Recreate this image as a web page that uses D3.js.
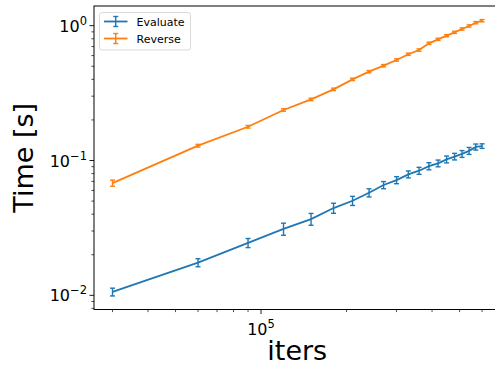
<!DOCTYPE html>
<html>
<head>
<meta charset="utf-8">
<script src="https://cdn.jsdelivr.net/npm/d3@7"></script>
<style>
  html, body { margin: 0; padding: 0; background: #fff; }
  svg { display: block; font-family: "DejaVu Sans", sans-serif; }
</style>
</head>
<body>
<svg id="chart" width="495" height="366"></svg>
<script>
// ---- data ----
const iters = [30000, 60000, 90000, 120000, 150000, 180000, 210000, 240000, 270000, 300000,
               330000, 360000, 390000, 420000, 450000, 480000, 510000, 540000, 570000, 600000];
const evaluateTime = [0.0106, 0.0175, 0.0245, 0.0311, 0.0368, 0.0444, 0.0503, 0.0577, 0.0658, 0.0716,
                      0.0790, 0.0840, 0.0908, 0.0953, 0.1020, 0.1070, 0.1120, 0.1180, 0.1260, 0.1280];
const evaluateErr = [0.0007, 0.0012, 0.0019, 0.0032, 0.0037, 0.0038, 0.0039, 0.0040, 0.0040, 0.0043,
                     0.0047, 0.0050, 0.0055, 0.0055, 0.0060, 0.0060, 0.0065, 0.0070, 0.0065, 0.0050];
const reverseTime = [0.0680, 0.1288, 0.1780, 0.2370, 0.2840, 0.3370, 0.4000, 0.4560, 0.5050, 0.5570,
                     0.6140, 0.6600, 0.7400, 0.7920, 0.8430, 0.8930, 0.9450, 0.9950, 1.0520, 1.0890];
const reverseErr = [0.0035, 0.0030, 0.0040, 0.0050, 0.0060, 0.0070, 0.0080, 0.0090, 0.0100, 0.0110,
                    0.0120, 0.0130, 0.0140, 0.0150, 0.0160, 0.0170, 0.0180, 0.0190, 0.0200, 0.0210];
const seriesNames = ["Evaluate", "Reverse"];
const seriesColors = ["#1f77b4", "#ff7f0e"];
const xMajorTicks = [1e5];
const yMajorTicks = [1e-2, 1e-1, 1e0];
const yTickExponents = ["−2", "−1", "0"];
const xTickExponents = ["5"];
const xLabel = "iters";
const yLabel = "Time [s]";

// ---- layout ----
const svg = d3.select("#chart");
svg.append("rect").attr("width", 495).attr("height", 366).attr("fill", "#fff");

const pL = 94, pR = 500.5, pT = 6, pB = 309.5;
const x = d3.scaleLog().domain([Math.pow(10, 4.412), Math.pow(10, 5.843)]).range([pL, pR]);
const y = d3.scaleLog().domain([Math.pow(10, -2.105), Math.pow(10, 0.146)]).range([pB, pT]);

// minor ticks
const xMinor = [];
for (let d = 1e4; d <= 1e6; d *= 10) for (let m = 2; m <= 9; m++) {
  const v = m * d; if (v >= x.domain()[0] && v <= x.domain()[1]) xMinor.push(v);
}
const yMinor = [];
for (let d = 1e-3; d <= 1; d *= 10) for (let m = 2; m <= 9; m++) {
  const v = m * d; if (v >= y.domain()[0] && v <= y.domain()[1]) yMinor.push(v);
}

const axG = svg.append("g");
// x ticks
xMinor.forEach(v => axG.append("line").attr("x1", x(v)).attr("x2", x(v))
  .attr("y1", pB).attr("y2", pB + 2.6).attr("stroke", "#000").attr("stroke-width", 0.7));
xMajorTicks.forEach((v, i) => {
  axG.append("line").attr("x1", x(v)).attr("x2", x(v))
    .attr("y1", pB).attr("y2", pB + 4.5).attr("stroke", "#000").attr("stroke-width", 0.9);
  const t = axG.append("text").attr("x", x(v)).attr("y", pB + 25)
    .attr("text-anchor", "middle").attr("font-size", 16).attr("fill", "#000");
  t.append("tspan").text("10");
  t.append("tspan").attr("dy", -7).attr("font-size", 11.5).text(xTickExponents[i]);
});
// y ticks
yMinor.forEach(v => axG.append("line").attr("x1", pL).attr("x2", pL - 2.6)
  .attr("y1", y(v)).attr("y2", y(v)).attr("stroke", "#000").attr("stroke-width", 0.7));
yMajorTicks.forEach((v, i) => {
  axG.append("line").attr("x1", pL).attr("x2", pL - 4.5)
    .attr("y1", y(v)).attr("y2", y(v)).attr("stroke", "#000").attr("stroke-width", 0.9);
  const t = axG.append("text").attr("x", pL - 7).attr("y", y(v) + 6)
    .attr("text-anchor", "end").attr("font-size", 16).attr("fill", "#000");
  t.append("tspan").text("10");
  t.append("tspan").attr("dy", -7).attr("font-size", 11.5).text(yTickExponents[i]);
});

// axis labels
svg.append("text").attr("x", (pL + pR) / 2).attr("y", 360)
  .attr("text-anchor", "middle").attr("font-size", 27).attr("fill", "#000").text(xLabel);
svg.append("text").attr("transform", `translate(33,${(pT + pB) / 2}) rotate(-90)`)
  .attr("text-anchor", "middle").attr("font-size", 27).attr("fill", "#000").text(yLabel);

// series
const series = [
  { name: seriesNames[0], color: seriesColors[0], v: evaluateTime, e: evaluateErr },
  { name: seriesNames[1], color: seriesColors[1], v: reverseTime, e: reverseErr }
];
const line = d3.line().x(d => x(d[0])).y(d => y(d[1]));
const plot = svg.append("g");
series.forEach(s => {
  const pts = iters.map((it, i) => [it, s.v[i], s.e[i]]);
  plot.append("path").datum(pts).attr("d", line).attr("fill", "none")
    .attr("stroke", s.color).attr("stroke-width", 1.8);
  const g = plot.append("g").attr("stroke", s.color).attr("stroke-width", 1.4);
  pts.forEach(p => {
    const px = x(p[0]), y1 = y(p[1] - p[2]), y2 = y(p[1] + p[2]);
    g.append("line").attr("x1", px).attr("x2", px).attr("y1", y1).attr("y2", y2);
    g.append("line").attr("x1", px - 2.5).attr("x2", px + 2.5).attr("y1", y1).attr("y2", y1);
    g.append("line").attr("x1", px - 2.5).attr("x2", px + 2.5).attr("y1", y2).attr("y2", y2);
  });
});

// spines
svg.append("rect").attr("x", pL).attr("y", pT).attr("width", pR - pL).attr("height", pB - pT)
  .attr("fill", "none").attr("stroke", "#000").attr("stroke-width", 1);

// legend
const lg = svg.append("g");
lg.append("rect").attr("x", 99.5).attr("y", 12.5).attr("width", 91).attr("height", 37.5)
  .attr("rx", 2.5).attr("fill", "#fff").attr("fill-opacity", 0.8)
  .attr("stroke", "#d0d0d0").attr("stroke-width", 0.8);
series.forEach((s, i) => {
  const cy = 21.5 + i * 17;
  const g = lg.append("g").attr("stroke", s.color);
  g.append("line").attr("x1", 104).attr("x2", 127.5).attr("y1", cy).attr("y2", cy).attr("stroke-width", 1.8);
  g.append("line").attr("x1", 115.7).attr("x2", 115.7).attr("y1", cy - 5).attr("y2", cy + 5).attr("stroke-width", 1.4);
  g.append("line").attr("x1", 113.2).attr("x2", 118.2).attr("y1", cy - 5).attr("y2", cy - 5).attr("stroke-width", 1.4);
  g.append("line").attr("x1", 113.2).attr("x2", 118.2).attr("y1", cy + 5).attr("y2", cy + 5).attr("stroke-width", 1.4);
  lg.append("text").attr("x", 136.5).attr("y", cy + 4).attr("font-size", 11).attr("fill", "#000").text(s.name);
});
</script>
</body>
</html>
